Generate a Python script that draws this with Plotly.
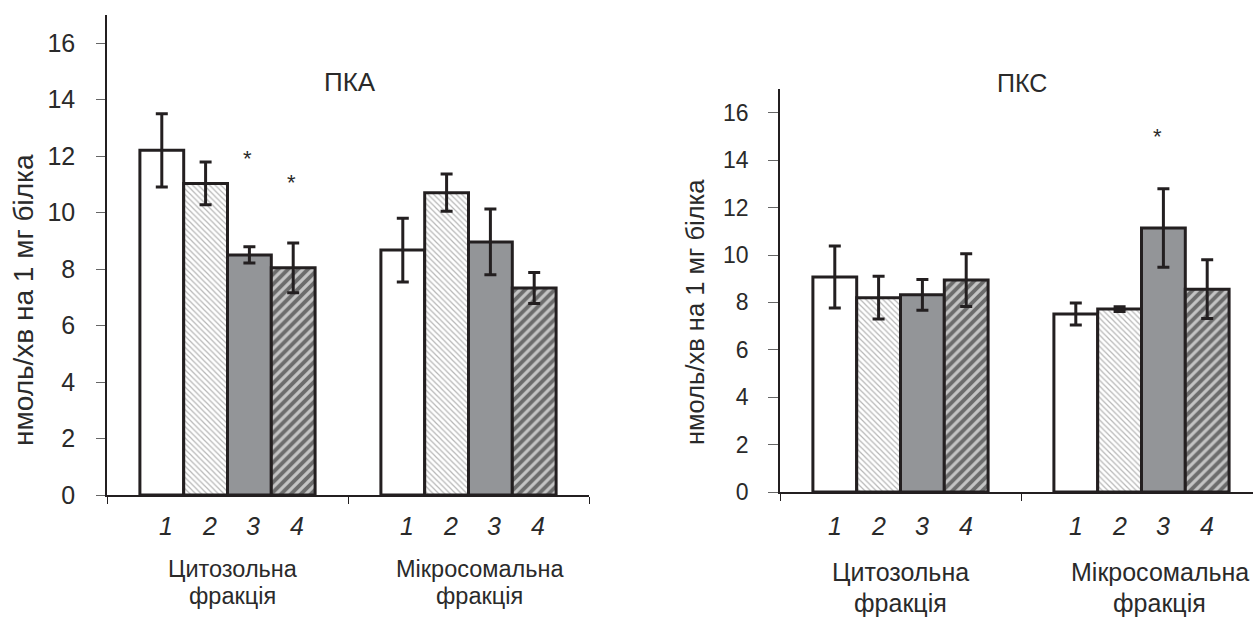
import plotly.graph_objects as go

# ---------------- data ----------------
groups = ["Цитозольна фракція", "Мікросомальна фракція"]
group_line1 = ["Цитозольна", "Мікросомальна"]
group_line2 = ["фракція", "фракція"]
series_labels = ["1", "2", "3", "4"]

# ПКА (protein kinase A): values per series, [cytosolic, microsomal]
pka_s1 = [12.2, 8.67]
pka_s2 = [11.03, 10.7]
pka_s3 = [8.5, 8.96]
pka_s4 = [8.04, 7.33]
pka_e1 = [1.3, 1.13]
pka_e2 = [0.76, 0.66]
pka_e3 = [0.29, 1.16]
pka_e4 = [0.88, 0.55]

# ПКС (protein kinase C)
pkc_s1 = [9.07, 7.51]
pkc_s2 = [8.2, 7.72]
pkc_s3 = [8.32, 11.14]
pkc_s4 = [8.94, 8.56]
pkc_e1 = [1.31, 0.46]
pkc_e2 = [0.9, 0.1]
pkc_e3 = [0.65, 1.66]
pkc_e4 = [1.11, 1.24]

# significance stars: (group index, series index, y value)
pka_stars = [(0, 2, 11.9), (0, 3, 11.05)]
pkc_stars = [(1, 2, 15.0)]

y_ticks = [0, 2, 4, 6, 8, 10, 12, 14, 16]
y_title = "нмоль/хв на 1 мг білка"

# ---------------- styling ----------------
W, H = 1253, 617
FONT = "Arial, Liberation Sans, sans-serif"
INK = "#231f20"
TXT = "#2a2a2a"
BARGAP = 0.273
bw = (1 - BARGAP) / 4  # width of one bar in category units

series_styles = [
    dict(color="white"),
    dict(color="white", pattern=dict(shape="\\", fgcolor="#6e6e6e", bgcolor="white", size=4, solidity=0.3)),
    dict(color="#939598"),
    dict(color="#c4c4c4", pattern=dict(shape="/", fgcolor="#141414", bgcolor="#c4c4c4", size=7, solidity=0.55)),
]

fig = go.Figure()

def add_chart(means, errs, xa, ya):
    for k in range(4):
        st = series_styles[k]
        marker = dict(color=st["color"], line=dict(color=INK, width=3))
        if "pattern" in st:
            marker["pattern"] = st["pattern"]
        fig.add_trace(go.Bar(
            x=groups, y=means[k], name=series_labels[k],
            marker=marker,
            error_y=dict(type="data", array=errs[k], color=INK, thickness=3, width=6),
            xaxis=xa, yaxis=ya, showlegend=False,
        ))

add_chart([pka_s1, pka_s2, pka_s3, pka_s4], [pka_e1, pka_e2, pka_e3, pka_e4], "x", "y")
add_chart([pkc_s1, pkc_s2, pkc_s3, pkc_s4], [pkc_e1, pkc_e2, pkc_e3, pkc_e4], "x2", "y2")

# geometry (pixels)
L_x0, L_x1 = 107, 589
L_y0, L_y17 = 495, 14.75
R_x0 = 780
R_cat = 241
R_y0, R_y17 = 492, 89.1

def dom_x(a, b):
    return [a / W, b / W]

def dom_y(y_bottom, y_top):
    return [(H - y_bottom) / H, (H - y_top) / H]

axis_common = dict(showgrid=False, zeroline=False, showline=True, linecolor=INK, linewidth=1.5,
                   automargin=False)

fig.update_layout(
    width=W, height=H,
    margin=dict(l=0, r=0, t=0, b=0, pad=0),
    paper_bgcolor="white", plot_bgcolor="white",
    barmode="group", bargap=BARGAP, bargroupgap=0,
    font=dict(family=FONT, size=25, color=TXT),
    xaxis=dict(domain=dom_x(L_x0, L_x1), type="category", range=[-0.5, 1.5], anchor="y",
               ticks="outside", tickson="boundaries", ticklen=7, tickcolor=INK,
               showticklabels=False, **axis_common),
    yaxis=dict(domain=dom_y(L_y0, L_y17), range=[0, 17], anchor="x", tickvals=y_ticks,
               ticks="outside", ticklen=9, tickcolor="#666", ticklabelstandoff=16,
               tickfont=dict(size=25, color=TXT), **axis_common),
    xaxis2=dict(domain=dom_x(R_x0, W), type="category",
                range=[-0.5, -0.5 + (W - R_x0) / R_cat], anchor="y2",
                ticks="outside", tickson="boundaries", ticklen=7, tickcolor=INK,
                showticklabels=False, **axis_common),
    yaxis2=dict(domain=dom_y(R_y0, R_y17), range=[0, 17], anchor="x2", tickvals=y_ticks,
                ticks="outside", ticklen=10, tickcolor="#666", ticklabelstandoff=15,
                tickfont=dict(size=23, color=TXT), **axis_common),
)

ann = []

def bar_x(g, k):
    return g + (k - 1.5) * bw

def add_labels(xref, yref, num_shift, num_xshift, l1_shift, l2_shift, size, grp_xshift):
    for g in range(2):
        for k in range(4):
            ann.append(dict(x=bar_x(g, k), y=0, xref=xref, yref=yref, yshift=num_shift,
                            xshift=num_xshift, text=f"<i>{series_labels[k]}</i>", showarrow=False,
                            font=dict(size=25), xanchor="center", yanchor="middle"))
        ann.append(dict(x=g, y=0, xref=xref, yref=yref, yshift=l1_shift, xshift=grp_xshift[g],
                        text=group_line1[g], showarrow=False, font=dict(size=size),
                        xanchor="center", yanchor="middle"))
        ann.append(dict(x=g, y=0, xref=xref, yref=yref, yshift=l2_shift, xshift=grp_xshift[g],
                        text=group_line2[g], showarrow=False, font=dict(size=size),
                        xanchor="center", yanchor="middle"))

add_labels("x", "y", -31, 4, -74, -101, 23.5, [5, 11])
add_labels("x2", "y2", -34, 0, -80, -111, 25, [0, 18])

def add_stars(stars, xref, yref, xs):
    for g, k, v in stars:
        ann.append(dict(x=bar_x(g, k), y=v, xref=xref, yref=yref, xshift=xs,
                        text="*", showarrow=False, font=dict(size=22),
                        xanchor="center", yanchor="middle"))

add_stars(pka_stars, "x", "y", -2)
add_stars(pkc_stars, "x2", "y2", -6)

# chart titles
ann.append(dict(x=350 / W, y=(H - 82) / H, xref="paper", yref="paper", text="ПКА",
                showarrow=False, font=dict(size=26), xanchor="center", yanchor="middle"))
ann.append(dict(x=1022 / W, y=(H - 83) / H, xref="paper", yref="paper", text="ПКС",
                showarrow=False, font=dict(size=25), xanchor="center", yanchor="middle"))

# y-axis titles
ann.append(dict(x=23 / W, y=(H - 300) / H, xref="paper", yref="paper", text=y_title,
                textangle=-90, showarrow=False, font=dict(size=28), xanchor="center", yanchor="middle"))
ann.append(dict(x=695 / W, y=(H - 312) / H, xref="paper", yref="paper", text=y_title,
                textangle=-90, showarrow=False, font=dict(size=25.5), xanchor="center", yanchor="middle"))

fig.update_layout(annotations=ann)
fig.write_html("out.html")
